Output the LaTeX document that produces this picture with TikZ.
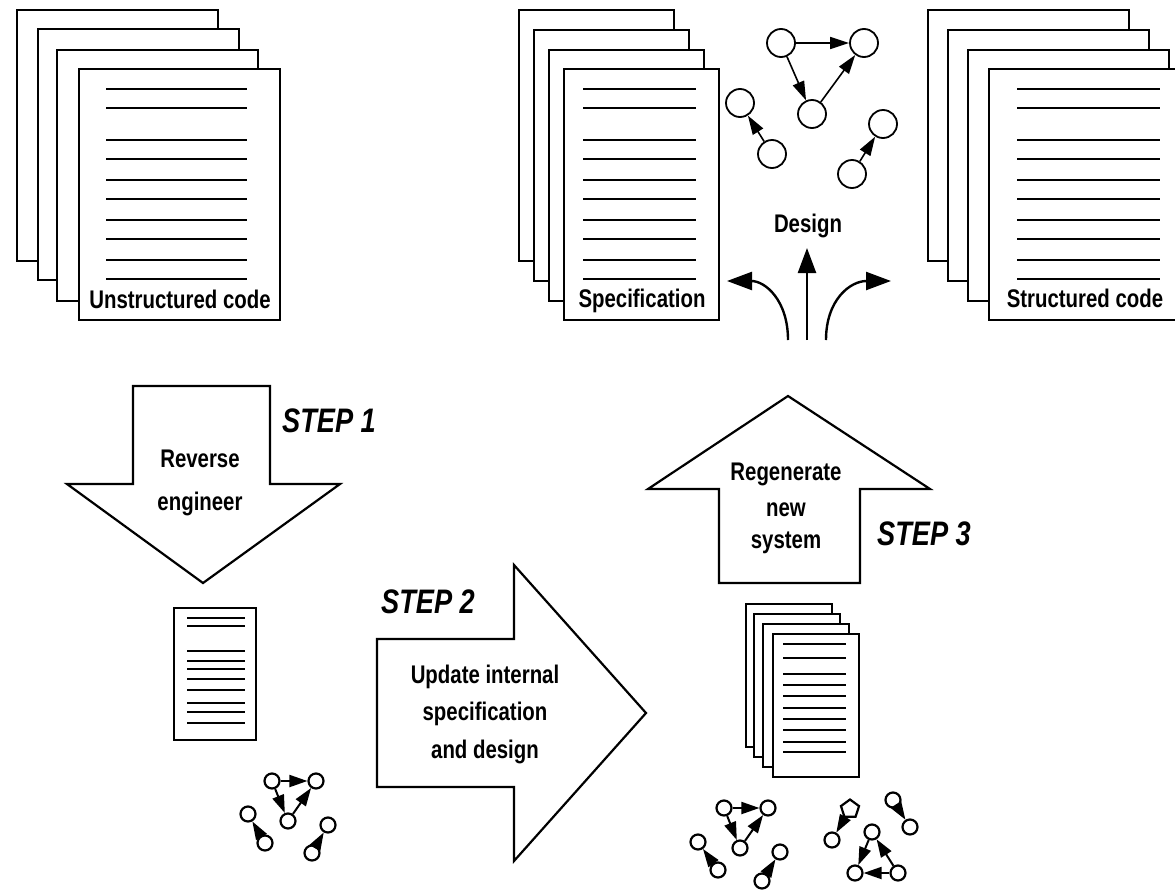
\documentclass[tikz,border=0pt]{standalone}
\usepackage{fontspec}
\setmainfont{Liberation Sans}
\newfontfamily\handfont[FakeStretch=0.8]{Liberation Sans}
\usetikzlibrary{arrows.meta,shapes.geometric}
\begin{document}
\begin{tikzpicture}[x=1pt,y=-1pt,
  page/.style={draw, fill=white, line width=2.4pt, rectangle, inner sep=0, anchor=north west},
  bigpage/.style={page, minimum width=201, minimum height=251},
  specpage/.style={page, minimum width=155, minimum height=251},
  smallpage/.style={page, minimum width=86, minimum height=143},
  docline/.style={line width=2.8pt},
  lbl/.style={font=\handfont\bfseries\fontsize{25.5}{25.5}\selectfont, inner sep=0, anchor=base},
  steplbl/.style={font=\handfont\bfseries\itshape\fontsize{34}{34}\selectfont, inner sep=0, anchor=base},
  bigarrow/.style={draw, line width=2.2pt, line join=miter, fill=white},
  gnode/.style={circle, draw, line width=1.8pt, minimum size=28, inner sep=0, fill=white},
  snode/.style={circle, draw, line width=2.2pt, minimum size=15, inner sep=0, fill=white},
  pnode/.style={regular polygon, regular polygon sides=5, draw, line width=2.2pt, minimum size=19, inner sep=0, fill=white},
  gedge/.style={line width=1.6pt, -{Triangle[length=19pt,width=12pt]}},
  sedge/.style={line width=2pt, -{Triangle[length=18pt,width=12pt]}},
  designarrow/.style={line width=2.4pt, -{Triangle[length=25pt,width=18pt]}}]
\useasboundingbox (0,0) rectangle (1175,889);
\clip (0,0) rectangle (1175,889);

% ---------- Unstructured code stack ----------
\node[bigpage] (u1) at (16,9) {};
\node[bigpage] (u2) at (37,28) {};
\node[bigpage] (u3) at (56,49) {};
\node[bigpage] (u4) at (78,68) {};
\foreach \yy in {89,108,140,159,180,199,220,239,260,279}
  \draw[docline] (106,\yy) -- (247,\yy);
\node[lbl] (ulab) at (180,308) {Unstructured code};

% ---------- Specification stack ----------
\node[specpage] (s1) at (518,9) {};
\node[specpage] (s2) at (533,29) {};
\node[specpage] (s3) at (548,49) {};
\node[specpage] (s4) at (563,68) {};
\foreach \yy in {89,108,140,159,180,199,220,239,260,279}
  \draw[docline] (583,\yy) -- (696,\yy);
\node[lbl] (slab) at (642,307) {Specification};

% ---------- Structured code stack ----------
\node[bigpage] (c1) at (927,9) {};
\node[bigpage] (c2) at (947,29) {};
\node[bigpage] (c3) at (967,49) {};
\node[bigpage] (c4) at (988,68) {};
\foreach \yy in {89,108,140,159,180,199,220,239,260,279}
  \draw[docline] (1017,\yy) -- (1160,\yy);
\node[lbl] (clab) at (1085,307) {Structured code};

% ---------- Design graph (top) ----------
\node[gnode] (ga) at (781,43) {};
\node[gnode] (gb) at (864,43) {};
\node[gnode] (gc) at (812,114) {};
\node[gnode] (gd) at (740,103) {};
\node[gnode] (ge) at (772,154) {};
\node[gnode] (gf) at (883,124) {};
\node[gnode] (gg) at (852,174) {};
\draw[gedge] (ga) -- (gb);
\draw[gedge] (ga) -- (gc);
\draw[gedge] (gc) -- (gb);
\draw[gedge] (ge) -- (gd);
\draw[gedge] (gg) -- (gf);

\node[lbl] (design) at (808,232) {Design};
\coordinate (dsL) at (788,340);
\coordinate (dtL) at (727,281);
\coordinate (dsM) at (807,340);
\coordinate (dtM) at (807,248);
\coordinate (dsR) at (826,340);
\coordinate (dtR) at (891,281);
\draw[designarrow] (dsL) .. controls (788,300) and (765,281) .. (dtL);
\draw[designarrow] (dsM) -- (dtM);
\draw[designarrow] (dsR) .. controls (826,300) and (850,281) .. (dtR);

% ---------- STEP 1 ----------
\draw[bigarrow] (133,386) -- (270,386) -- (270,484) -- (340,484) -- (203,583)
  -- (67,484) -- (133,484) -- cycle;
\node[lbl] (rev1) at (200,467) {Reverse};
\node[lbl] (rev2) at (200,510) {engineer};
\node[steplbl] (step1) at (329,432) {STEP 1};

% small document
\node[page, minimum width=82, minimum height=132] (sdoc) at (173,607) {};
\foreach \yy in {618,626,651,661,669,679,690,703,712,723}
  \draw[line width=2.4pt] (187,\yy) -- (245,\yy);

% small graphs (left)
\node[snode] (la) at (272,781) {};
\node[snode] (lb) at (316,781) {};
\node[snode] (lc) at (288,821) {};
\node[snode] (ld) at (248,814) {};
\node[snode] (le) at (265,843) {};
\node[snode] (lf) at (328,825) {};
\node[snode] (lg) at (312,853) {};
\draw[sedge] (la) -- (lb);
\draw[sedge] (la) -- (lc);
\draw[sedge] (lc) -- (lb);
\draw[sedge] (le) -- (ld);
\draw[sedge] (lg) -- (lf);

% ---------- STEP 2 ----------
\draw[bigarrow] (377,639) -- (514,639) -- (514,565) -- (646,713) -- (514,861)
  -- (514,787) -- (377,787) -- cycle;
\node[steplbl] (step2) at (428,613) {STEP 2};
\node[lbl] (upd1) at (485,683) {Update internal};
\node[lbl] (upd2) at (485,720) {specification};
\node[lbl] (upd3) at (485,758) {and design};

% ---------- STEP 3 ----------
\draw[bigarrow] (719,583) -- (719,489) -- (648,489) -- (788,396) -- (930,489)
  -- (860,489) -- (860,583) -- cycle;
\node[lbl] (reg1) at (786,480) {Regenerate};
\node[lbl] (reg2) at (786,516) {new};
\node[lbl] (reg3) at (786,548) {system};
\node[steplbl] (step3) at (924,545) {STEP 3};

% small document stack
\node[smallpage] (m1) at (745,603) {};
\node[smallpage] (m2) at (753,613) {};
\node[smallpage] (m3) at (762,623) {};
\node[smallpage] (m4) at (772,633) {};
\foreach \yy in {644,658,674,685,696,708,719,730,742,752}
  \draw[line width=2.4pt] (783,\yy) -- (846,\yy);

% small graphs (middle)
\node[snode] (ma) at (724,808) {};
\node[snode] (mb) at (768,808) {};
\node[snode] (mc) at (740,848) {};
\node[snode] (md) at (698,842) {};
\node[snode] (me) at (718,870) {};
\node[snode] (mf) at (780,852) {};
\node[snode] (mg) at (762,881) {};
\draw[sedge] (ma) -- (mb);
\draw[sedge] (ma) -- (mc);
\draw[sedge] (mc) -- (mb);
\draw[sedge] (me) -- (md);
\draw[sedge] (mg) -- (mf);

% small graphs (right)
\node[pnode] (rp) at (850,809) {};
\node[snode] (rq) at (832,840) {};
\node[snode] (rr) at (893,800) {};
\node[snode] (rs) at (910,827) {};
\node[snode] (rt) at (872,832) {};
\node[snode] (ru) at (855,873) {};
\node[snode] (rv) at (898,873) {};
\draw[sedge] (rp) -- (rq);
\draw[sedge] (rr) -- (rs);
\draw[sedge] (rv) -- (ru);
\draw[sedge] (rv) -- (rt);
\draw[sedge] (rt) -- (ru);
\end{tikzpicture}
\end{document}
